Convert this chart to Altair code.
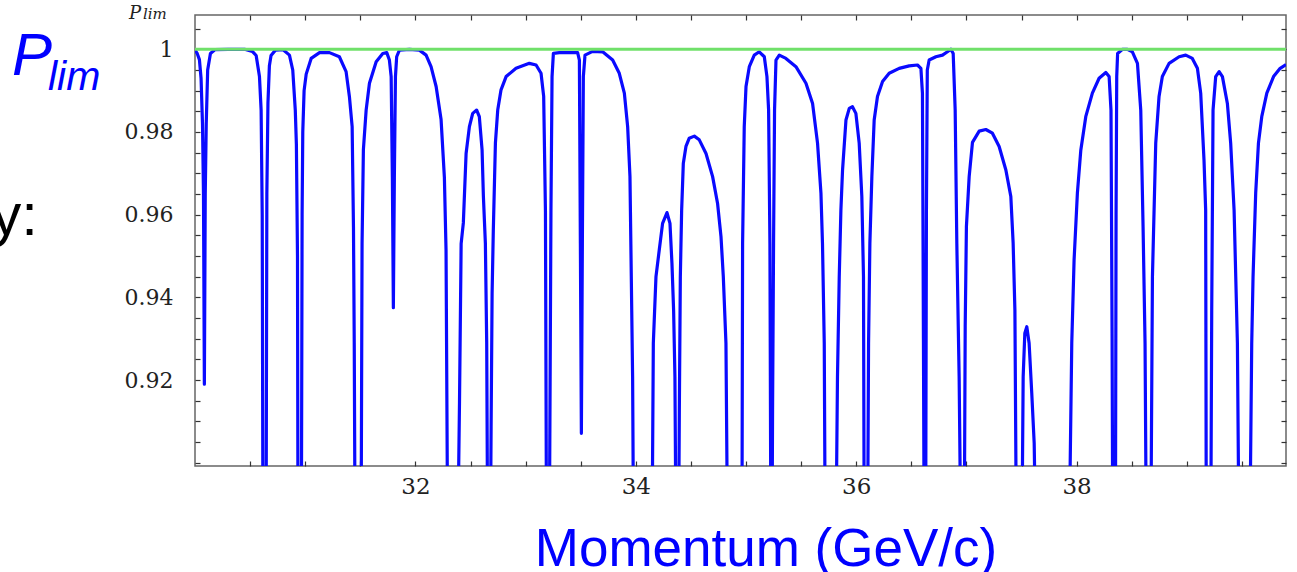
import json
import altair as alt
import pandas as pd

# ---------------- data ----------------
momentum = [
    30.00, 30.02, 30.04, 30.055, 30.068, 30.077, 30.085, 30.093, 30.102, 30.115, 30.14, 30.18, 30.30, 30.45,
    30.52, 30.555, 30.585, 30.600, 30.610, 30.617, 30.645, 30.652, 30.662, 30.675, 30.69, 30.73, 30.80,
    30.857, 30.887, 30.910, 30.920, 30.930, 30.935, 30.965, 30.972, 30.978, 30.990, 31.009, 31.054, 31.13,
    31.22, 31.31, 31.371, 31.401, 31.426, 31.438, 31.445, 31.453, 31.507, 31.516, 31.528, 31.553, 31.583,
    31.644, 31.704, 31.74, 31.764, 31.780, 31.791, 31.800, 31.809, 31.819, 31.830, 31.855, 31.946, 32.036,
    32.097, 32.142, 32.188, 32.233, 32.263, 32.278, 32.293, 32.384, 32.400, 32.415, 32.435, 32.460, 32.490,
    32.520, 32.556, 32.580, 32.605, 32.617, 32.635, 32.647, 32.656, 32.680, 32.687, 32.696, 32.707, 32.726,
    32.747, 32.777, 32.823, 32.913, 33.034, 33.095, 33.140, 33.164, 33.180, 33.190, 33.215, 33.230, 33.240,
    33.252, 33.306, 33.472, 33.488, 33.497, 33.506, 33.515, 33.524, 33.539, 33.608, 33.699, 33.790, 33.850,
    33.896, 33.926, 33.947, 33.959, 33.971, 33.980, 34.147, 34.159, 34.183, 34.213, 34.243, 34.283, 34.310,
    34.328, 34.343, 34.355, 34.365, 34.388, 34.395, 34.404, 34.416, 34.431, 34.455, 34.485, 34.531, 34.576,
    34.637, 34.697, 34.742, 34.773, 34.794, 34.818, 34.833, 34.963, 34.969, 34.984, 35.000, 35.030, 35.075,
    35.120, 35.166, 35.190, 35.205, 35.217, 35.226, 35.236, 35.241, 35.250, 35.259, 35.272, 35.302, 35.362,
    35.453, 35.544, 35.604, 35.649, 35.680, 35.694, 35.710, 35.719, 35.816, 35.830, 35.846, 35.861, 35.876,
    35.907, 35.937, 35.966, 35.997, 36.027, 36.051, 36.066, 36.073, 36.103, 36.112, 36.124, 36.142, 36.163,
    36.193, 36.239, 36.299, 36.390, 36.481, 36.556, 36.587, 36.601, 36.610, 36.617, 36.630, 36.637, 36.645,
    36.662, 36.723, 36.783, 36.828, 36.859, 36.880, 36.898, 36.913, 36.934, 36.950, 36.980, 36.989, 37.000,
    37.025, 37.055, 37.116, 37.176, 37.236, 37.297, 37.358, 37.403, 37.424, 37.440, 37.454, 37.503, 37.515,
    37.530, 37.548, 37.569, 37.593, 37.615, 37.630, 37.932, 37.956, 37.977, 38.007, 38.038, 38.083, 38.143,
    38.204, 38.265, 38.295, 38.312, 38.322, 38.328, 38.352, 38.358, 38.364, 38.372, 38.416, 38.461, 38.506,
    38.552, 38.582, 38.603, 38.621, 38.633, 38.673, 38.688, 38.718, 38.748, 38.778, 38.839, 38.930, 38.990,
    39.050, 39.096, 39.126, 39.156, 39.171, 39.177, 39.217, 39.226, 39.238, 39.262, 39.293, 39.323, 39.368,
    39.398, 39.429, 39.459, 39.474, 39.571, 39.589, 39.601, 39.625, 39.650, 39.680, 39.726, 39.787, 39.847,
    39.900,
]

plim = [
    0.9998, 0.9990, 0.9975, 0.9930, 0.9820, 0.9650, 0.9190, 0.9650, 0.9820, 0.9950, 0.9990, 0.9999, 1.0000, 1.0000,
    0.9995, 0.9985, 0.9934, 0.9853, 0.9600, 0.8800, 0.8800, 0.9650, 0.9870, 0.9960, 0.9985, 0.9998, 0.9999,
    0.9986, 0.9950, 0.9853, 0.9770, 0.9500, 0.8800, 0.8800, 0.9600, 0.9800, 0.9900, 0.9940, 0.9978, 0.9992,
    0.9992, 0.9982, 0.9946, 0.9886, 0.9813, 0.9570, 0.9290, 0.8800, 0.8800, 0.9530, 0.9757, 0.9853, 0.9918,
    0.9970, 0.9990, 0.9992, 0.9974, 0.9934, 0.9690, 0.9375, 0.9690, 0.9934, 0.9982, 0.9998, 1.0000, 0.9998,
    0.9986, 0.9958, 0.9910, 0.9830, 0.9690, 0.9515, 0.8800, 0.8800, 0.9144, 0.9530, 0.9580, 0.9748, 0.9813,
    0.9845, 0.9853, 0.9837, 0.9757, 0.9644, 0.9530, 0.9290, 0.8800, 0.8800, 0.9087, 0.9410, 0.9563, 0.9773,
    0.9853, 0.9902, 0.9934, 0.9954, 0.9966, 0.9962, 0.9942, 0.9886, 0.9610, 0.8800, 0.8800, 0.9610, 0.9934,
    0.9990, 0.9992, 0.9992, 0.9974, 0.9530, 0.9071, 0.9530, 0.9934, 0.9986, 0.9995, 0.9994, 0.9974, 0.9942,
    0.9894, 0.9813, 0.9692, 0.9450, 0.9208, 0.8800, 0.8800, 0.9289, 0.9450, 0.9515, 0.9579, 0.9605, 0.9579,
    0.9482, 0.9369, 0.9208, 0.8800, 0.8800, 0.9128, 0.9450, 0.9611, 0.9724, 0.9765, 0.9785, 0.9790, 0.9781,
    0.9748, 0.9692, 0.9627, 0.9547, 0.9450, 0.9289, 0.8800, 0.8800, 0.9530, 0.9813, 0.9910, 0.9958, 0.9986,
    0.9994, 0.9982, 0.9934, 0.9853, 0.9530, 0.8800, 0.8800, 0.9128, 0.9530, 0.9853, 0.9974, 0.9986, 0.9978,
    0.9958, 0.9918, 0.9869, 0.9773, 0.9652, 0.9530, 0.9289, 0.8800, 0.8800, 0.9208, 0.9450, 0.9611, 0.9708,
    0.9829, 0.9857, 0.9861, 0.9845, 0.9773, 0.9644, 0.9450, 0.8800, 0.8800, 0.9289, 0.9530, 0.9692, 0.9829,
    0.9886, 0.9922, 0.9942, 0.9954, 0.9960, 0.9962, 0.9954, 0.9894, 0.9300, 0.8800, 0.8800, 0.9600, 0.9950,
    0.9974, 0.9982, 0.9986, 0.9994, 1.0000, 0.9990, 0.9853, 0.9530, 0.9208, 0.8800, 0.8800, 0.9329, 0.9571,
    0.9692, 0.9775, 0.9802, 0.9806, 0.9797, 0.9765, 0.9708, 0.9644, 0.9531, 0.9369, 0.8800, 0.8800, 0.9208,
    0.9313, 0.9329, 0.9289, 0.9168, 0.9047, 0.8800, 0.8800, 0.9289, 0.9490, 0.9652, 0.9756, 0.9837, 0.9894,
    0.9930, 0.9944, 0.9934, 0.9853, 0.9300, 0.8800, 0.8800, 0.9600, 0.9934, 0.9990, 1.0000, 1.0000, 0.9994,
    0.9966, 0.9853, 0.9571, 0.9289, 0.8800, 0.8800, 0.9450, 0.9773, 0.9886, 0.9934, 0.9966, 0.9982, 0.9986,
    0.9978, 0.9954, 0.9894, 0.9732, 0.9611, 0.8800, 0.8800, 0.9369, 0.9853, 0.9934, 0.9946, 0.9934, 0.9869,
    0.9773, 0.9611, 0.9289, 0.8800, 0.8800, 0.9289, 0.9450, 0.9652, 0.9773, 0.9837, 0.9894, 0.9934, 0.9954,
    0.9963,
]

limit_level = [1.0]
limit_start = [30.0]
limit_end = [39.9]

x_tick_values = [30.5, 31.0, 31.5, 32.0, 32.5, 33.0, 33.5, 34.0, 34.5, 35.0,
                 35.5, 36.0, 36.5, 37.0, 37.5, 38.0, 38.5, 39.0, 39.5]
x_label_values = [32, 34, 36, 38]
y_tick_values = [0.900, 0.905, 0.910, 0.915, 0.920, 0.925, 0.930, 0.935, 0.940, 0.945,
                 0.950, 0.955, 0.960, 0.965, 0.970, 0.975, 0.980, 0.985, 0.990, 0.995,
                 1.000, 1.005]
y_label_values = [0.92, 0.94, 0.96, 0.98, 1.0]

x_domain = [30.0, 39.9]
y_domain = [0.8992, 1.0083]

# ---------------- chart ----------------
df = pd.DataFrame({"momentum": momentum, "plim": plim})
limit_df = pd.DataFrame({"start": limit_start, "end": limit_end, "level": limit_level})

W, H = 1091, 451
BLUE = "#0a0aff"
SERIF = "DejaVu Serif"

xscale = alt.Scale(domain=x_domain, nice=False, zero=False)
yscale = alt.Scale(domain=y_domain, nice=False, zero=False)

x_expr = "indexof(%s, datum.value) >= 0 ? format(datum.value, 'd') : ''" % json.dumps(x_label_values)
y_expr = "indexof(%s, datum.value) >= 0 ? format(datum.value, '~g') : ''" % json.dumps(y_label_values)

common_axis = dict(tickSize=5, offset=-5, domain=False, grid=False, title=None,
                   tickColor="#333333", tickWidth=1.2)

line = alt.Chart(df).mark_line(color=BLUE, strokeWidth=3.2, clip=True,
                               strokeJoin="round").encode(
    x=alt.X("momentum:Q", scale=xscale,
            axis=alt.Axis(orient="bottom", values=x_tick_values, labelExpr=x_expr,
                          labelFont=SERIF, labelFontSize=23, labelColor="#222222",
                          labelPadding=9, **common_axis)),
    y=alt.Y("plim:Q", scale=yscale,
            axis=alt.Axis(orient="left", values=y_tick_values, labelExpr=y_expr,
                          labelFont=SERIF, labelFontSize=22, labelColor="#222222",
                          labelPadding=22, **common_axis)),
)

limit = alt.Chart(limit_df).mark_rule(color="#70e06a", strokeWidth=3, clip=True).encode(
    x=alt.X("start:Q", scale=xscale,
            axis=alt.Axis(orient="top", values=x_tick_values, labels=False, **common_axis)),
    x2="end:Q",
    y=alt.Y("level:Q", scale=yscale,
            axis=alt.Axis(orient="right", values=y_tick_values, labels=False, **common_axis)),
)


def label(text, x, y, size, color, font, style="normal", align="left"):
    return alt.Chart(pd.DataFrame({"t": [text]})).mark_text(
        align=align, baseline="alphabetic", fontSize=size, font=font,
        fontStyle=style, color=color,
    ).encode(x=alt.value(x), y=alt.value(y), text="t:N")


texts = [
    label("P", -183, 60, 60, "#0000ff", "Liberation Sans", "italic"),
    label("lim", -147, 75, 41, "#0000ff", "Liberation Sans", "italic"),
    label("y:", -157, 220, 60, "#000000", "Liberation Sans", align="right"),
    label("Momentum (GeV/c)", 571, 551, 53, "#0000ff", "Liberation Sans", align="center"),
    label("P", -66, 4, 18, "#222222", SERIF, "italic"),
    label("lim", -52, 4, 15, "#222222", SERIF, "italic"),
]

chart = alt.layer(line, limit, *texts).resolve_axis(
    x="independent", y="independent"
).properties(
    width=W, height=H,
    autosize=alt.AutoSizeParams(type="none"),
    padding={"left": 195, "top": 15, "right": 11, "bottom": 106},
    background="white",
).configure_view(stroke="#666666", strokeWidth=1.5)

chart.save("out.html", embed_options={"renderer": "svg", "actions": False})
